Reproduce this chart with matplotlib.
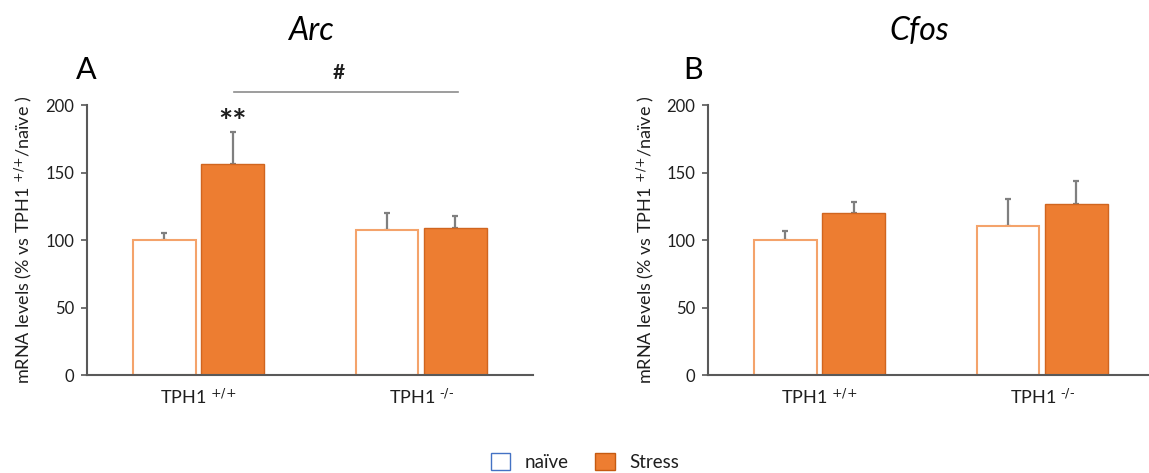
import matplotlib.pyplot as plt
import numpy as np

plt.rcParams['font.family'] = ['Lato', 'DejaVu Sans']
plt.rcParams['mathtext.default'] = 'regular'

groups = [r'TPH1 $^{\text{+/+}}$', r'TPH1 $^{\text{-/-}}$']
conditions = ['naïve', 'Stress']

# Arc mRNA, mean and SEM per genotype
arc_naive = [100, 107.5]
arc_naive_err = [5, 12.5]
arc_stress = [156.5, 109]
arc_stress_err = [23.5, 8.5]

# Cfos mRNA, mean and SEM per genotype
cfos_naive = [100, 110.5]
cfos_naive_err = [7, 20]
cfos_stress = [120, 126.5]
cfos_stress_err = [8, 17]

yticks = [0, 50, 100, 150, 200]

orange = '#ED7D31'
axis_col = '#595959'
err_col = '#7F7F7F'
txt_col = '#1F1F1F'

fig = plt.figure(figsize=(11.49, 4.73), dpi=100)
axA = fig.add_axes([0.0757, 0.207, 0.388, 0.571])
axB = fig.add_axes([0.6162, 0.207, 0.388, 0.571])

x = np.arange(len(groups))
w = 0.28
off = 0.153


def draw_panel(ax, naive, naive_err, stress, stress_err):
    b1 = ax.bar(x - off, naive, w, color='white', edgecolor='#F4A36B', linewidth=1.5,
                zorder=2)
    b2 = ax.bar(x + off, stress, w, color=orange, edgecolor='#D0651F', linewidth=1.0,
                zorder=2)
    ax.errorbar(x - off, naive, yerr=[np.zeros(2), naive_err], fmt='none',
                ecolor=err_col, elinewidth=1.6, capsize=2.5, capthick=1.6, zorder=1)
    ax.errorbar(x + off, stress, yerr=[np.zeros(2), stress_err], fmt='none',
                ecolor=err_col, elinewidth=1.6, capsize=2.5, capthick=1.6, zorder=1)
    ax.set_xlim(-0.5, 1.5)
    ax.set_ylim(0, 200)
    ax.set_yticks(yticks)
    ax.set_xticks(x)
    ax.set_xticklabels(groups, fontsize=13, color=txt_col)
    ax.tick_params(axis='x', length=0, pad=9)
    ax.tick_params(axis='y', length=4, width=1.2, color=axis_col, labelsize=12,
                   labelcolor=txt_col, pad=5)
    for s in ['top', 'right']:
        ax.spines[s].set_visible(False)
    for s in ['left', 'bottom']:
        ax.spines[s].set_color(axis_col)
        ax.spines[s].set_linewidth(1.5)
    ax.set_ylabel(r'mRNA levels (% vs TPH1 $^{\text{+/+}}$/naïve )', fontsize=13,
                  color=txt_col, labelpad=8)
    return b1, b2


b1, b2 = draw_panel(axA, arc_naive, arc_naive_err, arc_stress, arc_stress_err)
draw_panel(axB, cfos_naive, cfos_naive_err, cfos_stress, cfos_stress_err)

# significance marks on Arc
axA.text(0 + off, 186, '**', ha='center', va='center', fontsize=24,
         fontweight='bold', color=txt_col)
axA.plot([0.159, 1.164], [210, 210], color='#8C8C8C', linewidth=1.2, clip_on=False)
axA.text(0.63, 224, '#', ha='center', va='center', fontsize=15,
         fontweight='bold', color=txt_col, clip_on=False)

# gene titles and panel letters
fig.text(0.271, 0.935, 'Arc', ha='center', va='center', fontsize=23,
         style='italic', color='black')
fig.text(0.800, 0.935, 'Cfos', ha='center', va='center', fontsize=23,
         style='italic', color='black')
fig.text(0.066, 0.852, 'A', ha='left', va='center', fontsize=22, color='black')
fig.text(0.595, 0.852, 'B', ha='left', va='center', fontsize=22, color='black')

# legend
h_naive = plt.Rectangle((0, 0), 1, 1, facecolor='white', edgecolor='#4472C4',
                        linewidth=1.0)
h_stress = plt.Rectangle((0, 0), 1, 1, facecolor=orange, edgecolor='#C55A11',
                         linewidth=1.0)
leg = fig.legend([h_naive, h_stress], conditions, loc='center',
                 bbox_to_anchor=(0.509, 0.023), ncol=2, frameon=False,
                 fontsize=13.5, handlelength=1.05, handleheight=1.05,
                 columnspacing=1.45, handletextpad=0.75)
for t in leg.get_texts():
    t.set_color(txt_col)

fig.savefig('out.png', dpi=100, facecolor='white')
